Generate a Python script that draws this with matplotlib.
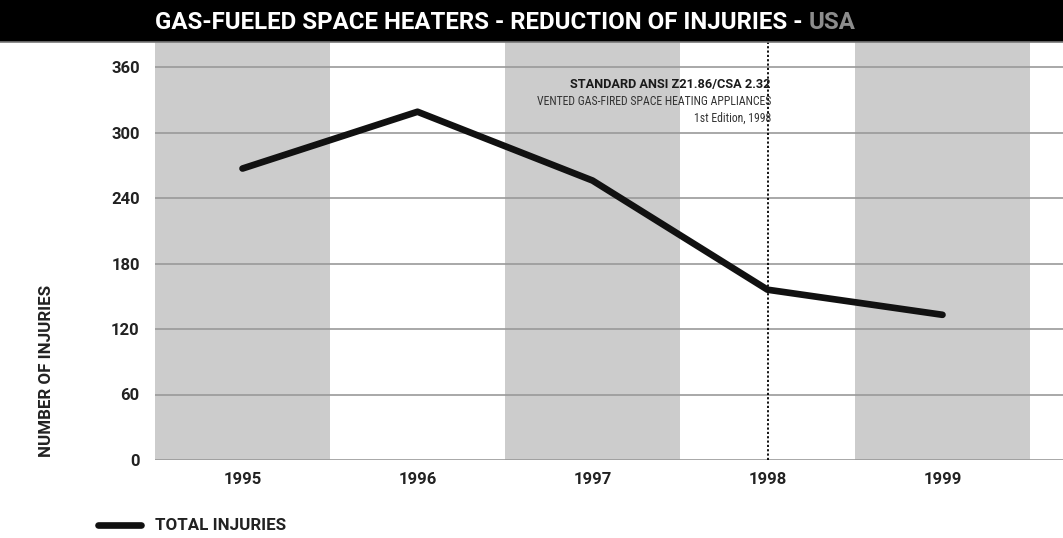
import matplotlib
matplotlib.use('Agg')
import matplotlib.pyplot as plt
from matplotlib.patches import Rectangle

# Data
years = [1995, 1996, 1997, 1998, 1999]
injuries = [267, 319, 256, 156, 133]
yticks = [0, 60, 120, 180, 240, 300, 360]
shaded_years = [1995, 1997, 1999]

plt.rcParams['font.family'] = ['Roboto', 'DejaVu Sans']
NARROW = ['Roboto Condensed', 'Roboto', 'DejaVu Sans']

W, H = 1063, 538
fig = plt.figure(figsize=(W / 100, H / 100), dpi=100)
ax = fig.add_axes([155 / W, (H - 460) / H, (W - 155) / W, (460 - 42) / H])


def fit(txt, width_px):
    # scale a text's font size so it spans about width_px pixels
    fig.canvas.draw()
    w = txt.get_window_extent().width
    txt.set_fontsize(txt.get_fontsize() * width_px / w)


# title bar
fig.patches.append(Rectangle((0, (H - 42) / H), 1, 42 / H, transform=fig.transFigure,
                             facecolor='black', edgecolor='none', zorder=0))
fig.add_artist(plt.Line2D([0, 1], [(H - 42) / H] * 2, color='#777777', lw=1.2))

for yr in shaded_years:
    ax.axvspan(yr - 0.5, yr + 0.5, color='#cccccc', lw=0, zorder=0)

for t in yticks:
    ax.axhline(t, color='#999999', lw=1.2, zorder=1)

ax.axvline(1998, color='black', lw=1.3, ls=(0, (1.2, 1.2)), zorder=2)

ax.plot(years, injuries, color='#111111', lw=4.8, solid_capstyle='round',
        solid_joinstyle='round', zorder=3)

ax.set_xlim(1994.5, 1994.5 + (W - 155) / 175)
ax.set_ylim(0, 360 + 25 / 65.5 * 60)
ax.set_xticks(years)
ax.set_xticklabels([str(y) for y in years])
ax.set_yticks(yticks)
ax.tick_params(length=0, labelsize=12, labelcolor='#222222', pad=11)
ax.tick_params(axis='x', pad=9)
for lab in ax.get_xticklabels() + ax.get_yticklabels():
    lab.set_fontweight('bold')
for s in ax.spines.values():
    s.set_visible(False)

# annotation at the 1998 standard line
xr = 1994.5 + (771 - 155) / 175
a1 = ax.text(xr, 340.8, 'STANDARD ANSI Z21.86/CSA 2.32', ha='right', va='baseline',
             fontsize=9, fontweight='bold', color='#1a1a1a')
a2 = ax.text(xr, 325.2, 'VENTED GAS-FIRED SPACE HEATING APPLIANCES', ha='right',
             va='baseline', fontsize=9, color='#333333', family=NARROW)
a3 = ax.text(xr, 309.6, '1st Edition, 1998', ha='right', va='baseline',
             fontsize=9, color='#333333', family=NARROW)
fit(a1, 201)
fit(a2, 234)
a3.set_fontsize(a2.get_fontsize())

ylab = fig.text(47 / W, (H - 371) / H, 'NUMBER OF INJURIES', rotation=90, ha='center',
                va='center', fontsize=11, fontweight='bold', color='#222222')

# title in two colours
t1 = fig.text(155 / W, (H - 22.5) / H, 'GAS-FUELED SPACE HEATERS - REDUCTION OF INJURIES - ',
              color='white', fontsize=15, fontweight='bold', va='center', ha='left')
t2 = fig.text(0, (H - 22.5) / H, 'USA', color='#8c8c8c', fontsize=15, fontweight='bold',
              va='center', ha='left')
fit(t1, 653)
t2.set_fontsize(t1.get_fontsize())
fig.canvas.draw()
t2.set_x(t1.get_window_extent().x1 / W)

# legend
fig.add_artist(plt.Line2D([98 / W, 141 / W], [(H - 525) / H] * 2, color='#111111', lw=4.8,
                          solid_capstyle='round'))
leg = fig.text(155 / W, (H - 525) / H, 'TOTAL INJURIES', fontsize=11, fontweight='bold',
               color='#222222', va='center', ha='left')
fit(leg, 130)
ylab.set_fontsize(leg.get_fontsize())

fig.savefig('out.png', dpi=100)
